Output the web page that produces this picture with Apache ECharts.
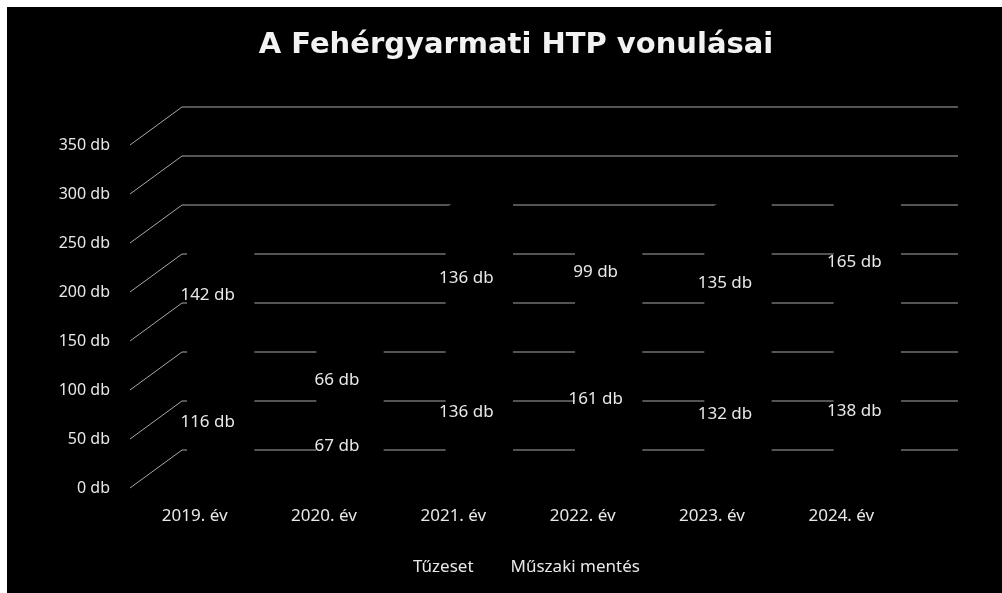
<!DOCTYPE html>
<html>
<head>
<meta charset="utf-8">
<script src="https://cdn.jsdelivr.net/npm/echarts@6/dist/echarts.min.js"></script>
<style>
  html, body { margin: 0; padding: 0; background: #fff; }
  #chart { position: absolute; left: 7px; top: 7px; width: 995px; height: 586px; background: #000; }
</style>
</head>
<body>
<div id="chart"></div>
<script>
const categories = ["2019. év", "2020. év", "2021. év", "2022. év", "2023. év", "2024. év"];
const tuzeset = [116, 67, 136, 161, 132, 138];
const muszaki = [142, 66, 136, 99, 135, 165];
const yTicks = [0, 50, 100, 150, 200, 250, 300, 350];

// 3D look: depth offset of the back wall, bars sit in the middle of the depth
const DX = 52, DY = -38, F1 = 0.35, F2 = 0.65, FL = 0.25, BAR = 0.4;
const FONT = "Noto Sans";

const chart = echarts.init(document.getElementById("chart"));

function wallItem(params, api) {
  const cs = params.coordSys;
  const y = api.coord([0, api.value(1)])[1];
  return {
    type: "polyline",
    shape: {
      points: [
        [cs.x, y],
        [cs.x + DX, y + DY],
        [cs.x + cs.width + DX, y + DY]
      ]
    },
    style: { stroke: "#a8a8a8", lineWidth: 1, fill: null }
  };
}

function barItem(params, api) {
  const i = api.value(0);
  const lo = api.value(1);
  const hi = api.value(2);
  const p0 = api.coord([i, lo]);
  const p1 = api.coord([i, hi]);
  const bw = api.size([1, 0])[0] * BAR;
  const x0 = p0[0] - bw / 2 + DX * F1;
  const yb = p0[1] + DY * F1;
  const yt = p1[1] + DY * F1;
  const ddx = DX * (F2 - F1), ddy = DY * (F2 - F1);
  return {
    type: "group",
    children: [
      {
        type: "polygon",
        shape: {
          points: [
            [x0, yb], [x0 + bw, yb], [x0 + bw + ddx, yb + ddy],
            [x0 + bw + ddx, yt + ddy], [x0 + ddx, yt + ddy], [x0, yt]
          ]
        },
        style: { fill: "#000", stroke: null }
      },
      {
        type: "text",
        style: {
          x: p0[0] + DX * FL,
          y: (p0[1] + p1[1]) / 2 + DY * FL,
          text: (hi - lo) + " db",
          fill: "#e8e8e8",
          font: "17px " + FONT,
          align: "center",
          verticalAlign: "middle"
        }
      }
    ]
  };
}

const tuzData = tuzeset.map((v, i) => [i, 0, v]);
const muszData = muszaki.map((v, i) => [i, tuzeset[i], tuzeset[i] + v]);

const option = {
  backgroundColor: "#000",
  animation: false,
  title: {
    text: "A Fehérgyarmati HTP vonulásai",
    left: 504,
    textAlign: "center",
    top: 19,
    textStyle: { color: "#f2f2f2", fontSize: 29, fontWeight: "bold", fontFamily: "DejaVu Sans" }
  },
  legend: {
    data: ["Tűzeset", "Műszaki mentés"],
    left: 388,
    top: 547,
    icon: "rect",
    itemWidth: 8,
    itemHeight: 8,
    itemGap: 24,
    textStyle: { color: "#e8e8e8", fontSize: 17, fontFamily: FONT }
  },
  grid: { left: 123, top: 138, width: 776, height: 343 },
  xAxis: {
    type: "category",
    data: categories,
    axisLine: { show: false },
    axisTick: { show: false },
    axisLabel: { color: "#e8e8e8", fontSize: 17, fontFamily: FONT, margin: 20 }
  },
  yAxis: {
    type: "value",
    min: 0,
    max: 350,
    interval: 50,
    splitLine: { show: false },
    axisLine: { show: false },
    axisTick: { show: false },
    axisLabel: { formatter: "{value} db", color: "#e8e8e8", fontSize: 16, fontFamily: FONT, margin: 20 }
  },
  series: [
    {
      name: "wall",
      type: "custom",
      z: 1,
      silent: true,
      renderItem: wallItem,
      data: yTicks.map(t => [0, t])
    },
    {
      name: "Tűzeset",
      type: "custom",
      z: 2,
      itemStyle: { color: "#000" },
      renderItem: barItem,
      encode: { x: 0, y: 2 },
      data: tuzData
    },
    {
      name: "Műszaki mentés",
      type: "custom",
      z: 3,
      itemStyle: { color: "#000" },
      renderItem: barItem,
      encode: { x: 0, y: 2 },
      data: muszData
    }
  ]
};

chart.setOption(option);
</script>
</body>
</html>
